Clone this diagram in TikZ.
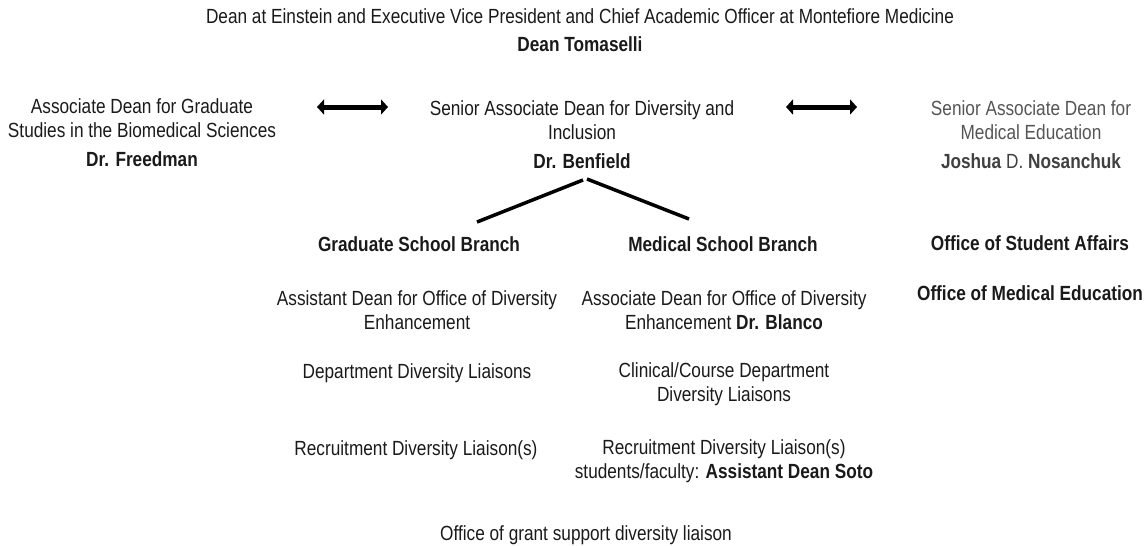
\documentclass[tikz,border=0pt]{standalone}
\usepackage{fontspec}
\setmainfont{Liberation Sans}[FakeStretch=0.84]
\usepackage{tikz}
\usetikzlibrary{arrows.meta}
\usetikzlibrary{positioning}

\definecolor{ink}{HTML}{1A1A1A}
\definecolor{muted}{HTML}{555555}

\begin{document}
\begin{tikzpicture}[x=1pt, y=-1pt,
    every node/.style = {align=center, inner sep=0pt, text=ink,
                         font=\fontsize{20.5}{24}\selectfont},
    head/.style = {font=\fontsize{20.5}{24}\selectfont\bfseries},
    faded/.style = {text=muted},
    link/.style = {line width=5pt, draw=black,
                   {Triangle[length=7pt,width=15pt]}-{Triangle[length=7pt,width=15pt]}},
    branch/.style = {line width=3.5pt, draw=black}]
  \useasboundingbox (0,0) rectangle (1146,546);

  % top of the chart
  \node (dean) at (580,30) {Dean at Einstein and Executive Vice President and Chief Academic Officer at Montefiore Medicine\\[4pt]
    \textbf{Dean Tomaselli}};

  % second row
  \node (freedman) at (142,133) {Associate Dean for Graduate\\Studies in the Biomedical Sciences\\[5pt]\textbf{Dr. Freedman}};
  \node (benfield) at (582,135) {Senior Associate Dean for Diversity and\\Inclusion\\[5pt]\textbf{Dr. Benfield}};
  \node[faded] (nosanchuk) at (1031,135) {Senior Associate Dean for\\Medical Education\\[5pt]
    \textcolor{black!75}{\textbf{Joshua} D. \textbf{Nosanchuk}}};

  \coordinate (la) at (317,107);
  \coordinate (lb) at (388,107);
  \coordinate (ra) at (786,107);
  \coordinate (rb) at (857,107);
  \draw[link] (la) -- (lb);
  \draw[link] (ra) -- (rb);

  % the two branches under Dr. Benfield
  \node[head] (grad) at (419,244) {Graduate School Branch};
  \node[head] (med) at (723,244) {Medical School Branch};
  \node[head] (affairs) at (1030,243) {Office of Student Affairs};

  \coordinate (forkl) at (583,180);
  \coordinate (forkr) at (587,179);
  \coordinate (gradtop) at (477,222);
  \coordinate (medtop) at (689,219);
  \draw[branch] (forkl) -- (gradtop);
  \draw[branch] (forkr) -- (medtop);

  % graduate school side
  \node (gradasst) at (417,310) {Assistant Dean for Office of Diversity\\Enhancement};
  \node (gradliaison) at (417,373) {Department Diversity Liaisons};
  \node (gradrecruit) at (416,450) {Recruitment Diversity Liaison(s)};

  % medical school side
  \node (medassoc) at (724,310) {Associate Dean for Office of Diversity\\Enhancement \textbf{Dr. Blanco}};
  \node (medliaison) at (724,384) {Clinical/Course Department\\Diversity Liaisons};
  \node (medrecruit) at (724,461) {Recruitment Diversity Liaison(s)\\students/faculty: \textbf{Assistant Dean Soto}};

  \node[head] (meded) at (1030,293) {Office of Medical Education};

  \node (grant) at (586,535) {Office of grant support diversity liaison};
\end{tikzpicture}
\end{document}
